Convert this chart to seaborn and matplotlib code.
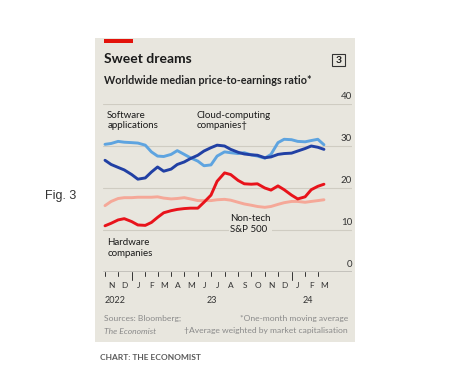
import numpy as np
import pandas as pd
import matplotlib
matplotlib.use("Agg")
import matplotlib.pyplot as plt
import matplotlib.dates as mdates
import matplotlib.patches as mpatches
import seaborn as sns

# ── Data (semi-monthly) ───────────────────────────────────────────────────────
dates = pd.date_range("2022-11-01", "2024-03-15", freq="SMS")

software = [30.4, 30.6, 31.1, 30.9, 30.8, 30.7, 30.2, 28.6, 27.6, 27.5, 28.0, 28.9,
            28.0, 27.2, 26.4, 25.3, 25.5, 27.6, 28.6, 28.4, 28.2, 28.4, 27.9, 27.6,
            27.1, 28.0, 30.8, 31.6, 31.5, 31.1, 31.0, 31.3, 31.6, 30.3]
cloud = [26.6, 25.6, 24.9, 24.3, 23.2, 22.1, 22.4, 23.8, 25.0, 24.0, 24.5, 25.6,
         26.2, 27.0, 27.8, 28.8, 29.6, 30.2, 30.0, 29.2, 28.5, 28.1, 27.9, 27.8,
         27.2, 27.4, 28.0, 28.2, 28.3, 28.8, 29.4, 30.0, 29.7, 29.2]
hardware = [11.0, 11.6, 12.4, 12.7, 12.0, 11.2, 11.1, 11.8, 13.0, 14.1, 14.6, 14.9,
            15.1, 15.2, 15.2, 16.6, 18.3, 21.6, 23.6, 23.2, 21.8, 21.0, 20.9, 21.0,
            20.0, 19.5, 20.5, 19.6, 18.3, 17.4, 17.9, 19.6, 20.4, 20.9]
nontech = [15.8, 16.8, 17.5, 17.7, 17.7, 17.8, 17.8, 17.8, 17.9, 17.6, 17.4, 17.5,
           17.7, 17.4, 17.0, 17.0, 17.0, 17.2, 17.3, 17.1, 16.6, 16.2, 15.9, 15.6,
           15.4, 15.6, 16.1, 16.5, 16.8, 16.8, 16.6, 16.8, 17.0, 17.2]

month_letters = list("NDJFMAMJJASONDJFM")
y_ticks = [0, 10, 20, 30, 40]

# ── Styling ───────────────────────────────────────────────────────────────────
BG = "#e8e6de"
GRID = "#cfccc2"
TEXT = "#1a1a1a"
NOTE = "#8a8a8a"
colours = {
    "Software": "#5ea4e0",
    "Cloud": "#2140a4",
    "Hardware": "#e8131b",
    "Non-tech": "#f5a898",
}

sns.set_theme(style="white")
plt.rcParams["font.family"] = ["Lato", "DejaVu Sans"]

df = pd.DataFrame({"date": dates, "Software": software, "Cloud": cloud,
                   "Hardware": hardware, "Non-tech": nontech})
long_df = df.melt(id_vars="date", var_name="series", value_name="pe")

W, H = 467, 385
fig = plt.figure(figsize=(W / 100, H / 100), dpi=100)
fig.patch.set_facecolor("white")


def fx(px):
    return px / W


def fy(py):
    return 1 - py / H


# panel background and red tag (kept behind the axes)
fig.patches.append(mpatches.Rectangle((fx(95), fy(342)), fx(355) - fx(95), fy(38) - fy(342),
                                      transform=fig.transFigure, facecolor=BG,
                                      edgecolor="none", zorder=-10))
fig.patches.append(mpatches.Rectangle((fx(104), fy(43)), fx(133) - fx(104), fy(39) - fy(43),
                                      transform=fig.transFigure, facecolor="#e3120b",
                                      edgecolor="none", zorder=-5))

# axes in pixel layout
ax_l, ax_r, ax_t, ax_b = 103, 352, 104, 272
ax = fig.add_axes([fx(ax_l), fy(ax_b), fx(ax_r) - fx(ax_l), fy(ax_t) - fy(ax_b)])
ax.set_facecolor("none")
ax.set_zorder(1)

sns.lineplot(data=long_df, x="date", y="pe", hue="series", palette=colours,
             hue_order=["Non-tech", "Software", "Hardware", "Cloud"],
             linewidth=2.1, legend=False, ax=ax, zorder=3)

start = pd.Timestamp("2022-11-01")
px_per_day = (13.33 / 30.44)
x0 = mdates.date2num(start)
ax.set_xlim(x0 - (105 - ax_l) / px_per_day, x0 + (ax_r - 105) / px_per_day)
ax.set_ylim(0, 40)

for s in ax.spines.values():
    s.set_visible(False)
ax.set_xticks([])
ax.set_yticks([])
ax.set_xlabel("")
ax.set_ylabel("")

for v in y_ticks:
    ax.axhline(v, color="#333333" if v == 0 else GRID,
               lw=1.0 if v == 0 else 0.8, zorder=1 if v else 4)
    ax.text(1.0, v + 0.6, str(v), transform=ax.get_yaxis_transform(),
            ha="right", va="bottom", fontsize=7, color="#333333")

# month ticks and letters
trans = ax.get_xaxis_transform()
month_starts = pd.date_range("2022-11-01", "2024-03-01", freq="MS")
for d, letter in zip(month_starts, month_letters):
    xn = mdates.date2num(d)
    tick_len = 0.045 if d.month == 1 else 0.025
    ax.plot([xn, xn], [0, -tick_len], transform=trans, color="#333333",
            lw=0.7, clip_on=False)
    mid = mdates.date2num(d + pd.Timedelta(days=15))
    ax.text(mid, -0.08, letter, transform=trans, ha="center", va="center",
            fontsize=6, color="#333333")

ax.text(x0, -0.17, "2022", transform=trans, ha="left", va="center",
        fontsize=6.5, color="#333333")
ax.text(mdates.date2num(pd.Timestamp("2023-07-04")), -0.17, "23", transform=trans,
        ha="center", va="center", fontsize=6.5, color="#333333")
ax.text(mdates.date2num(pd.Timestamp("2024-02-08")), -0.17, "24", transform=trans,
        ha="center", va="center", fontsize=6.5, color="#333333")

# series labels
lab_kw = dict(fontsize=7, color=TEXT, linespacing=1.2, va="top", ha="left")
ax.text(mdates.date2num(pd.Timestamp("2022-11-06")), 38.4, "Software\napplications", **lab_kw)
ax.text(mdates.date2num(pd.Timestamp("2023-05-30")), 38.4, "Cloud-computing\ncompanies†", **lab_kw)
ax.text(mdates.date2num(pd.Timestamp("2023-08-14")), 13.7, "Non-tech\nS&P 500",
        bbox=dict(facecolor=BG, edgecolor="none", pad=1.0), zorder=5, **lab_kw)
ax.text(mdates.date2num(pd.Timestamp("2022-11-06")), 8.0, "Hardware\ncompanies", **lab_kw)

# titles
fig.text(fx(104), fy(59), "Sweet dreams", fontsize=10, fontweight="bold",
         color=TEXT, va="center", ha="left")
fig.text(fx(104), fy(81), "Worldwide median price-to-earnings ratio*", fontsize=7.75,
         fontweight="bold", color="#222222", va="center", ha="left")
fig.patches.append(mpatches.Rectangle((fx(332), fy(66)), fx(345) - fx(332), fy(54) - fy(66),
                                      transform=fig.transFigure, facecolor="none",
                                      edgecolor="#333333", lw=0.8, zorder=2))
fig.text(fx(338.5), fy(60.5), "3", fontsize=7.5, fontweight="bold", color=TEXT,
         ha="center", va="center")

# footnotes
fig.text(fx(104), fy(318), "Sources: Bloomberg;", fontsize=6.1, color=NOTE, va="center")
fig.text(fx(104), fy(331), "The Economist", fontsize=6.1, color=NOTE, va="center",
         style="italic")
fig.text(fx(348), fy(318), "*One-month moving average", fontsize=6.1, color=NOTE,
         va="center", ha="right")
fig.text(fx(348), fy(331), "†Average weighted by market capitalisation",
         fontsize=6.1, color=NOTE, va="center", ha="right")

fig.text(fx(45), fy(196), "Fig. 3", fontsize=9, color="#333333", va="center", ha="left",
         family=["Liberation Sans", "DejaVu Sans"])
fig.text(fx(100), fy(357), "CHART: THE ECONOMIST", fontsize=6, fontweight="bold",
         color="#5a5a5a", va="center", ha="left")

fig.savefig("out.png", dpi=100, facecolor="white")
